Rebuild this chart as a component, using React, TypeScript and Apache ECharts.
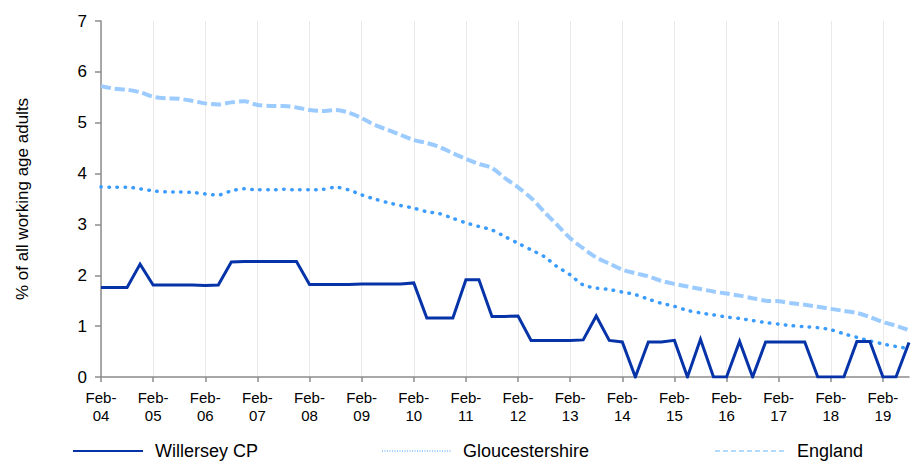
import React, { useEffect, useRef } from "react";
import * as echarts from "echarts";

const YEARS = ["04","05","06","07","08","09","10","11","12","13","14","15","16","17","18","19"];
const QUARTER_MONTHS = ["Feb", "May", "Aug", "Nov"];
// Quarterly categories from Feb-04 to Aug-19
const CATEGORIES: string[] = [];
YEARS.forEach((y) => {
  QUARTER_MONTHS.forEach((m) => {
    if (y === "19" && m === "Nov") return;
    CATEGORIES.push(`${m}-${y}`);
  });
});

const WILLERSEY = [
  1.76, 1.76, 1.76, 2.22, 1.81, 1.81, 1.81, 1.81, 1.8, 1.81,
  2.26, 2.27, 2.27, 2.27, 2.27, 2.27, 1.82, 1.82, 1.82, 1.82,
  1.83, 1.83, 1.83, 1.83, 1.85, 1.16, 1.16, 1.16, 1.91, 1.91,
  1.19, 1.19, 1.2, 0.72, 0.72, 0.72, 0.72, 0.73, 1.2, 0.72,
  0.69, 0, 0.69, 0.69, 0.72, 0, 0.74, 0, 0, 0.7,
  0, 0.69, 0.69, 0.69, 0.69, 0, 0, 0, 0.7, 0.7,
  0, 0, 0.68,
];

const GLOUCESTERSHIRE = [
  3.74, 3.73, 3.73, 3.7, 3.66, 3.64, 3.64, 3.63, 3.6, 3.58,
  3.66, 3.7, 3.68, 3.68, 3.69, 3.68, 3.68, 3.69, 3.73, 3.68,
  3.58, 3.5, 3.43, 3.37, 3.32, 3.25, 3.21, 3.12, 3.03, 2.96,
  2.89, 2.76, 2.63, 2.5, 2.37, 2.17, 2.01, 1.81, 1.75, 1.72,
  1.67, 1.62, 1.53, 1.45, 1.39, 1.31, 1.26, 1.22, 1.18, 1.15,
  1.11, 1.07, 1.04, 1.01, 0.99, 0.97, 0.93, 0.85, 0.78, 0.71,
  0.65, 0.6, 0.56,
];

const ENGLAND = [
  5.72, 5.67, 5.65, 5.6, 5.51, 5.48, 5.47, 5.43, 5.38, 5.36,
  5.4, 5.42, 5.35, 5.33, 5.33, 5.3, 5.25, 5.23, 5.25, 5.2,
  5.09, 4.96, 4.86, 4.76, 4.66, 4.6, 4.52, 4.4, 4.29, 4.19,
  4.11, 3.91, 3.73, 3.52, 3.25, 2.99, 2.73, 2.53, 2.35, 2.23,
  2.11, 2.04, 1.98, 1.89, 1.83, 1.78, 1.73, 1.68, 1.64, 1.6,
  1.55, 1.5, 1.49, 1.45, 1.42, 1.38, 1.34, 1.3, 1.26, 1.18,
  1.08, 1.01, 0.92,
];

const Y_TICKS = [0, 1, 2, 3, 4, 5, 6, 7];
const SERIES_NAMES = ["Willersey CP", "Gloucestershire", "England"];

const COL_W = "#0634a8";
const COL_G = "#3b9cff";
const COL_E = "#9ccbff";
const FONT = "'Liberation Sans', Arial, sans-serif";

export default function App() {
  const ref = useRef<HTMLDivElement>(null);
  useEffect(() => {
    if (!ref.current) return;
    const chart = echarts.init(ref.current, undefined, { renderer: "svg" });
    chart.setOption({
      animation: false,
      backgroundColor: "#ffffff",
      textStyle: { fontFamily: FONT },
      grid: { left: 101, right: 2, top: 21, bottom: 85, containLabel: false },
      xAxis: {
        type: "category",
        data: CATEGORIES,
        boundaryGap: false,
        axisLine: { lineStyle: { color: "#8c8c8c", width: 1.5 } },
        axisTick: { show: true, interval: 3, length: 5, lineStyle: { color: "#8c8c8c", width: 1.5 } },
        splitLine: { show: true, interval: 3, lineStyle: { color: "#e9e9e9", width: 1 } },
        axisLabel: {
          interval: 3,
          fontSize: 15,
          color: "#000",
          lineHeight: 18,
          margin: 11,
          fontFamily: FONT,
          formatter: (v: string) => v.replace("-", "-\n"),
        },
      },
      yAxis: {
        type: "value",
        min: Y_TICKS[0],
        max: Y_TICKS[Y_TICKS.length - 1],
        interval: 1,
        name: "% of all working age adults",
        nameLocation: "middle",
        nameGap: 70,
        nameTextStyle: { fontSize: 17, color: "#000", fontFamily: FONT },
        axisLine: { show: true, lineStyle: { color: "#8c8c8c", width: 1.5 } },
        axisTick: { show: true, length: 6, lineStyle: { color: "#8c8c8c", width: 1.5 } },
        splitLine: { show: false },
        axisLabel: { fontSize: 17, color: "#000", margin: 14, fontFamily: FONT },
      },
      series: [
        {
          name: SERIES_NAMES[2],
          type: "line",
          data: ENGLAND,
          showSymbol: false,
          smooth: 0.3,
          lineStyle: { color: COL_E, width: 4, type: [10, 4] },
          z: 2,
        },
        {
          name: SERIES_NAMES[1],
          type: "line",
          data: GLOUCESTERSHIRE,
          showSymbol: false,
          smooth: 0.3,
          lineStyle: { color: COL_G, width: 3.5, type: [0.5, 7.5], cap: "round" },
          z: 3,
        },
        {
          name: SERIES_NAMES[0],
          type: "line",
          data: WILLERSEY,
          showSymbol: false,
          smooth: false,
          lineStyle: { color: COL_W, width: 3, join: "miter" },
          z: 4,
        },
      ],
      graphic: [
        { type: "line", shape: { x1: 73, y1: 451, x2: 143, y2: 451 }, style: { stroke: COL_W, lineWidth: 2 } },
        { type: "text", x: 155, y: 451, style: { text: SERIES_NAMES[0], fontSize: 18, fill: "#000", font: `18px ${FONT}`, textVerticalAlign: "middle", verticalAlign: "middle" } },
        { type: "line", shape: { x1: 382, y1: 451, x2: 452, y2: 451 }, style: { stroke: COL_G, lineWidth: 1.2, lineDash: [1, 1.5] } },
        { type: "text", x: 463, y: 451, style: { text: SERIES_NAMES[1], fontSize: 18, fill: "#000", font: `18px ${FONT}`, textVerticalAlign: "middle", verticalAlign: "middle" } },
        { type: "line", shape: { x1: 715, y1: 451, x2: 785, y2: 451 }, style: { stroke: COL_E, lineWidth: 1.5, lineDash: [5, 3] } },
        { type: "text", x: 797, y: 451, style: { text: SERIES_NAMES[2], fontSize: 18, fill: "#000", font: `18px ${FONT}`, textVerticalAlign: "middle", verticalAlign: "middle" } },
      ],
    });
    return () => chart.dispose();
  }, []);
  return <div ref={ref} style={{ width: 911, height: 462, position: "absolute", left: 0, top: 0 }} />;
}
